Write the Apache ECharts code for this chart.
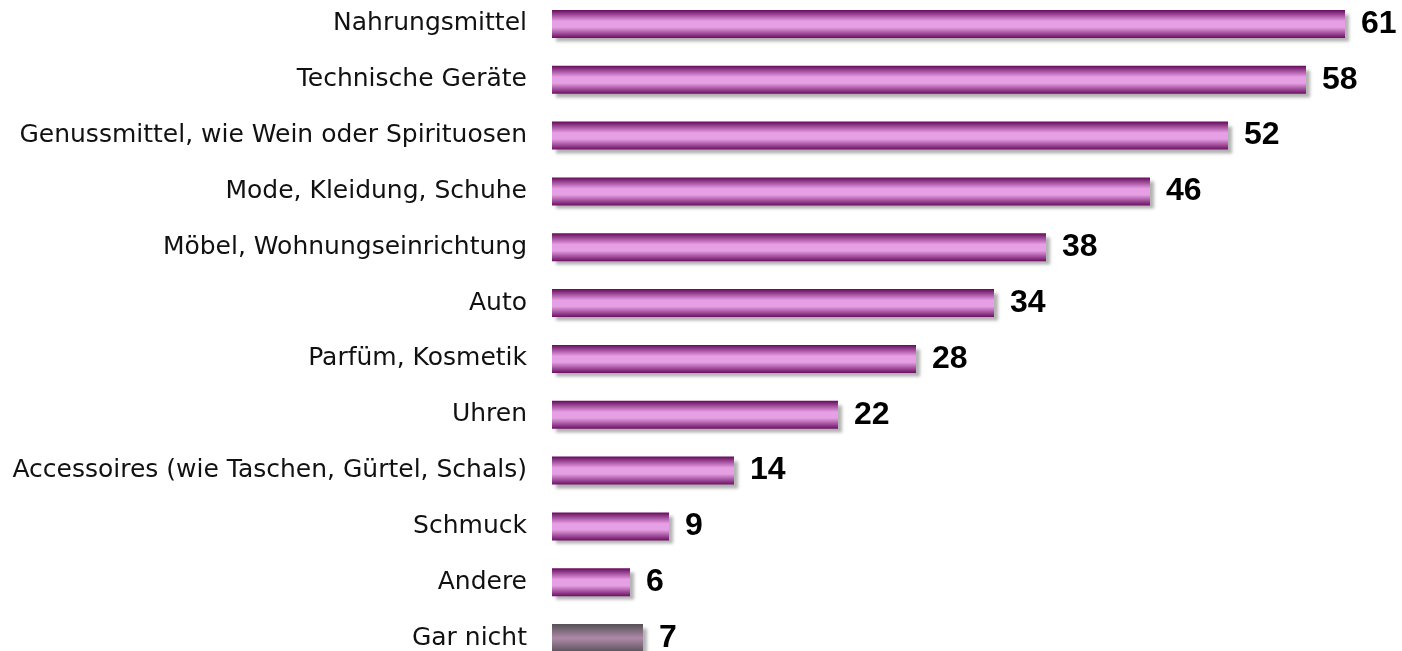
<!DOCTYPE html>
<html>
<head>
<meta charset="utf-8">
<script src="https://cdn.jsdelivr.net/npm/echarts@6/dist/echarts.min.js"></script>
<style>
  html, body { margin: 0; padding: 0; background: #fff; overflow: hidden; }
  #wrap { position: relative; width: 1402px; height: 651px; overflow: hidden; }
  /* Diagramm leicht nach oben verschoben, damit die Kategorien den ganzen Rahmen füllen */
  #chart { position: absolute; left: 0; top: -4px; width: 1402px; height: 670px; }
</style>
</head>
<body>
<div id="wrap"><div id="chart"></div></div>
<script>
// Kategorien von oben nach unten
const categories = [
  'Nahrungsmittel',
  'Technische Geräte',
  'Genussmittel, wie Wein oder Spirituosen',
  'Mode, Kleidung, Schuhe',
  'Möbel, Wohnungseinrichtung',
  'Auto',
  'Parfüm, Kosmetik',
  'Uhren',
  'Accessoires (wie Taschen, Gürtel, Schals)',
  'Schmuck',
  'Andere',
  'Gar nicht'
]
const values = [61, 58, 52, 46, 38, 34, 28, 22, 14, 9, 6, 7]
const greyCategory = 'Gar nicht'

const purpleFill = new echarts.graphic.LinearGradient(0, 0, 0, 1, [
  { offset: 0, color: '#650a5c' },
  { offset: 0.4, color: '#e79ee5' },
  { offset: 0.62, color: '#e5a0e3' },
  { offset: 1, color: '#6c0f63' }
])
const greyFill = new echarts.graphic.LinearGradient(0, 0, 0, 1, [
  { offset: 0, color: '#555055' },
  { offset: 0.5, color: '#ae8aa8' },
  { offset: 1, color: '#5a525a' }
])

const myChart = echarts.init(document.getElementById('chart'))

myChart.setOption({
  animation: false,
  grid: { left: 552, right: 57, top: 0, bottom: 0, containLabel: false },
  xAxis: {
    type: 'value',
    min: 0,
    max: 61,
    show: false
  },
  yAxis: {
    type: 'category',
    inverse: true,
    data: categories,
    axisLine: { show: false },
    axisTick: { show: false },
    axisLabel: {
      margin: 25,
      fontFamily: 'DejaVu Sans',
      fontSize: 25,
      color: '#111'
    }
  },
  series: [
    {
      type: 'bar',
      barWidth: 28,
      data: values.map((v, i) => ({
        value: v,
        itemStyle: { color: categories[i] === greyCategory ? greyFill : purpleFill }
      })),
      itemStyle: {
        shadowColor: 'rgba(0,0,0,0.3)',
        shadowBlur: 3,
        shadowOffsetX: 4,
        shadowOffsetY: 4
      },
      label: {
        show: true,
        position: 'right',
        distance: 16,
        fontFamily: 'Liberation Sans',
        fontWeight: 'bold',
        fontSize: 32,
        color: '#000'
      }
    }
  ]
})
</script>
</body>
</html>
